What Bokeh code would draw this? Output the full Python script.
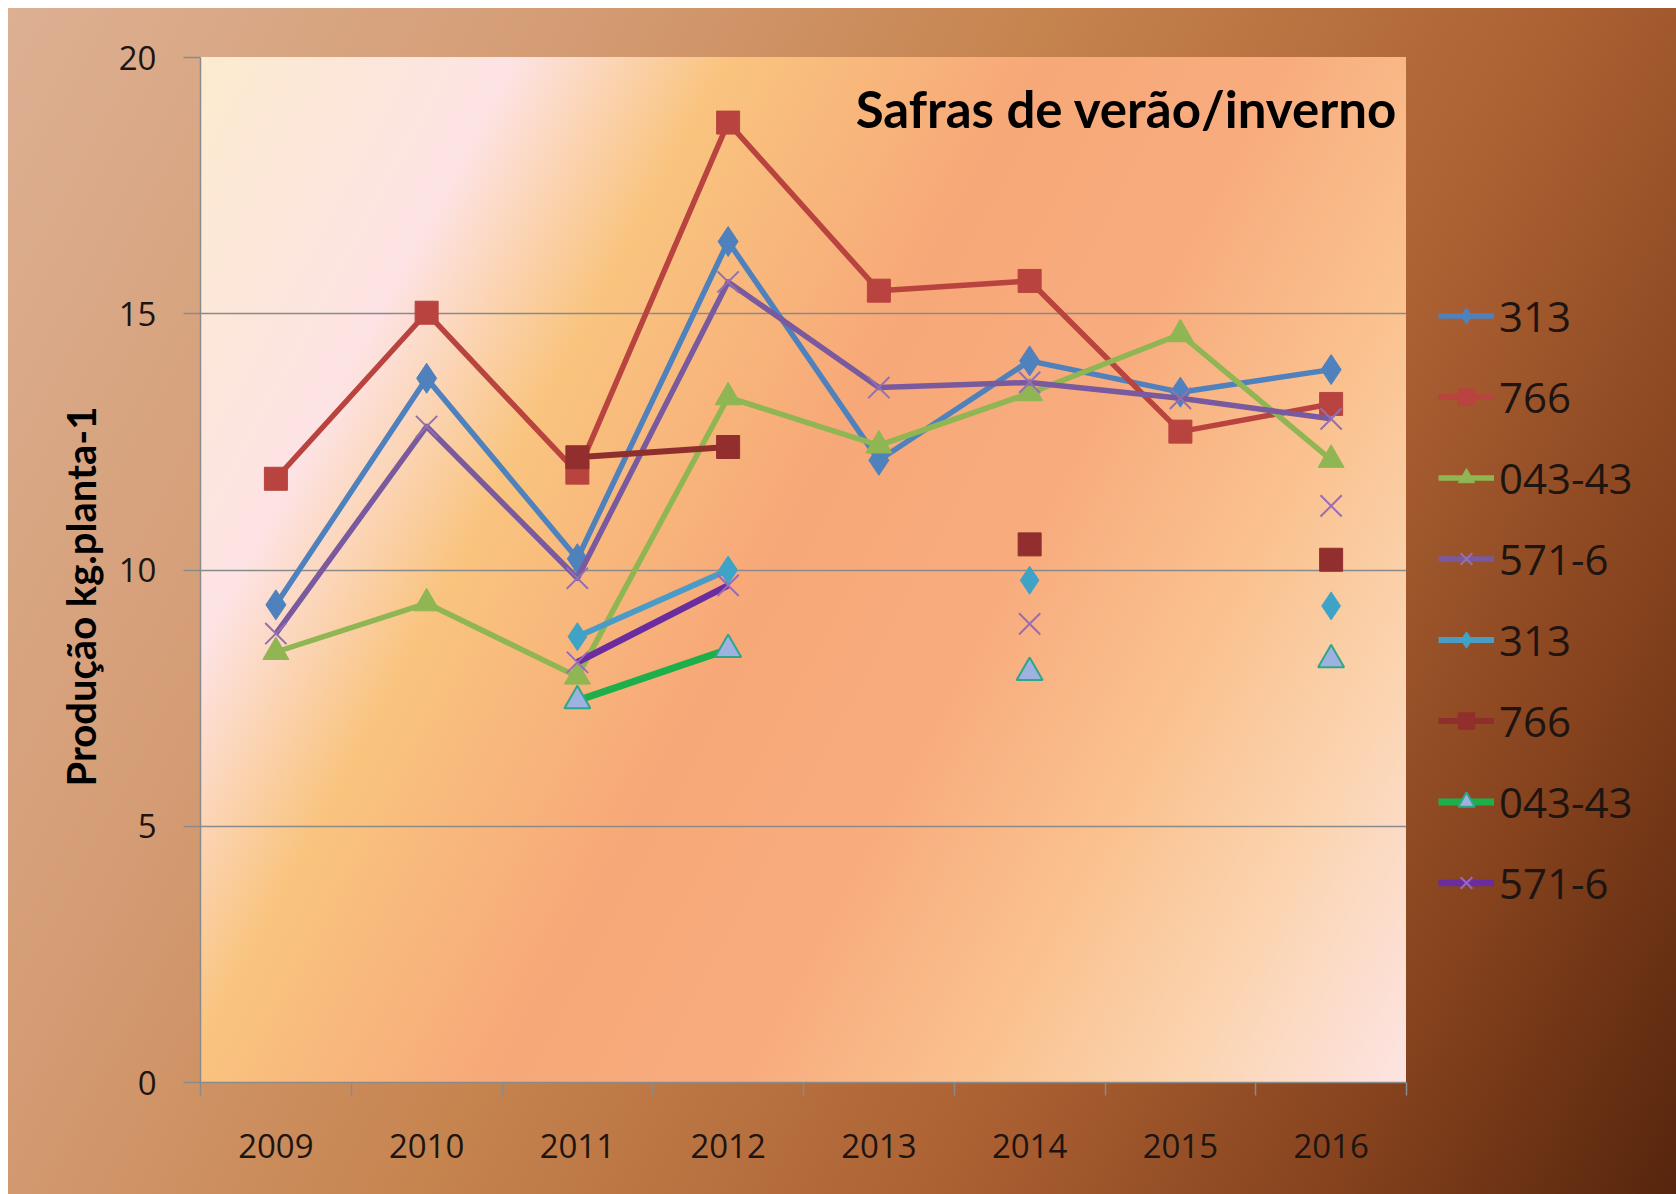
import numpy as np
from bokeh.plotting import figure
from bokeh.models import Range1d, FixedTicker, Legend, LegendItem, Label, Title
from bokeh.embed import file_html
from bokeh.resources import INLINE

# ---------------- data ----------------
YEARS = [2009, 2010, 2011, 2012, 2013, 2014, 2015, 2016]
Y_TICKS = [0, 5, 10, 15, 20]

S313_A = [9.32, 13.74, 10.22, 16.41, 12.14, 14.08, 13.47, 13.91]
S766_A = [11.78, 15.02, 11.90, 18.73, 15.45, 15.64, 12.70, 13.24]
S04343_A = [8.40, 9.35, 7.92, 13.37, 12.43, 13.45, 14.60, 12.15]
S5716_A = [8.76, 12.80, 9.84, 15.62, 13.56, 13.66, 13.35, 12.95]

S313_B = [None, None, 8.70, 10.00, None, 9.80, None, 9.30]
S766_B = [None, None, 12.20, 12.40, None, 10.50, None, 10.20]
S04343_B = [None, None, 7.45, 8.45, None, 8.00, None, 8.25]
S5716_B = [None, None, 8.20, 9.70, None, 8.95, None, 11.25]

LABELS = ["313", "766", "043-43", "571-6", "313", "766", "043-43", "571-6"]
TITLE = "Safras de verão/inverno"
Y_TITLE = "Produção kg.planta-1"


def arr(v):
    return np.array([np.nan if x is None else x for x in v], dtype=float)


# ---------------- figure ----------------
outer_bg = ("linear-gradient(118deg, #DDB092 0%, #D49C74 25%, #C6844F 45%, "
            "#AC6133 68%, #85421D 85%, #56250D 100%)")
inner_bg = ("linear-gradient(118deg, #FCEBCF 0%, #FDE3E4 18%, #F9C47F 30%, "
            "#F7A878 48%, #F8AC7E 62%, #FAC18E 75%, #FBD4B0 87%, #FDE4E3 100%)")

p = figure(
    frame_width=1206, frame_height=1025,
    output_backend="svg", toolbar_location=None,
    x_range=Range1d(YEARS[0] - 0.5, YEARS[-1] + 0.5),
    y_range=Range1d(Y_TICKS[0], Y_TICKS[-1]),
    min_border_left=200, min_border_right=270,
    min_border_top=57, min_border_bottom=112,
    styles={
        "background-color": "white",
        "background-image": inner_bg + ", " + outer_bg,
        "background-position": "200px 57px, 8px 8px",
        "background-size": "1206px 1025px, 1668px 1186px",
        "background-repeat": "no-repeat, no-repeat",
    },
)
p.background_fill_color = None
p.border_fill_color = None
p.outline_line_color = None

GRAY = "#8A8A8A"
TICK_FONT = "Open Sans"
TICK_SIZE = "33px"
TEXT_COLOR = "#1E1410"

p.xgrid.visible = False
p.ygrid.ticker = FixedTicker(ticks=Y_TICKS)
p.ygrid.grid_line_color = GRAY
p.ygrid.grid_line_width = 1.5

boundaries = [y - 0.5 for y in YEARS] + [YEARS[-1] + 0.5]
xa = p.xaxis[0]
xa.ticker = FixedTicker(ticks=YEARS, minor_ticks=boundaries)
xa.major_label_overrides = {y: str(y) for y in YEARS}
xa.major_tick_line_color = None
xa.major_tick_out = 0
xa.major_tick_in = 0
xa.minor_tick_line_color = GRAY
xa.minor_tick_line_width = 1.5
xa.minor_tick_out = 13
xa.minor_tick_in = 0
xa.axis_line_color = GRAY
xa.axis_line_width = 1.5
xa.major_label_standoff = 38
xa.major_label_text_font = TICK_FONT
xa.major_label_text_font_size = TICK_SIZE
xa.major_label_text_color = TEXT_COLOR

ya = p.yaxis[0]
ya.ticker = FixedTicker(ticks=Y_TICKS)
ya.major_tick_line_color = GRAY
ya.major_tick_line_width = 1.5
ya.major_tick_out = 17
ya.major_tick_in = 0
ya.minor_tick_line_color = None
ya.axis_line_color = GRAY
ya.axis_line_width = 1.5
ya.major_label_standoff = 27
ya.major_label_text_font = TICK_FONT
ya.major_label_text_font_size = TICK_SIZE
ya.major_label_text_color = TEXT_COLOR

p.add_layout(Title(text=Y_TITLE, align="left", offset=296, standoff=22,
                   text_font="Lato", text_font_style="bold",
                   text_font_size="40px", text_color="black"), "left")

# ---------------- series ----------------
x = np.array(YEARS, dtype=float)
series = [
    (arr(S313_A), "#4F81BD", 5.5, "diamond", "#4F81BD", "#4F81BD", 30, 1),
    (arr(S766_A), "#B8433F", 5.5, "square", "#B8433F", "#B8433F", 23, 1),
    (arr(S04343_A), "#8FB653", 5.5, "triangle", "#8FB653", "#8FB653", 26, 1),
    (arr(S5716_A), "#7A5A9E", 5.5, "x", None, "#9270B0", 30, 2),
    (arr(S313_B), "#4A9CC6", 6, "diamond", "#3FA3C8", "#3FA3C8", 28, 1),
    (arr(S766_B), "#8E2F2D", 6, "square", "#922F2E", "#922F2E", 23, 1),
    (arr(S04343_B), "#1DB04A", 7, "triangle", "#9DB2E0", "#2FA58A", 26, 2),
    (arr(S5716_B), "#6A2C9E", 6.5, "x", None, "#9A6AB8", 30, 2),
]

items = []
for (vals, lc, lw, marker, fc, mc, ms, mlw), lab in zip(series, LABELS):
    lr = p.line(x, vals, line_color=lc, line_width=lw, line_join="round")
    sr = p.scatter(x, vals, marker=marker, size=ms,
                   fill_color=fc, line_color=mc, line_width=mlw)
    items.append(LegendItem(label=lab, renderers=[lr, sr]))

legend = Legend(
    items=items,
    location="top_left",
    orientation="vertical",
    ncols=1,
    title=" ", title_text_font=TICK_FONT, title_text_font_size="40px",
    title_standoff=143,
    glyph_width=56, glyph_height=41, label_height=41, spacing=24,
    label_standoff=5, padding=0, margin=32,
    label_text_font=TICK_FONT, label_text_font_size="42px",
    label_text_color=TEXT_COLOR,
    background_fill_alpha=0, border_line_color=None,
)
p.add_layout(legend, "right")

p.add_layout(Label(
    x=p.x_range.end, y=p.y_range.end, x_offset=-9, y_offset=-51,
    text=TITLE, text_align="right", text_baseline="alphabetic",
    text_font="Lato", text_font_style="bold",
    text_font_size="51px", text_color="black",
))

open("out.html", "w").write(file_html(p, INLINE))
